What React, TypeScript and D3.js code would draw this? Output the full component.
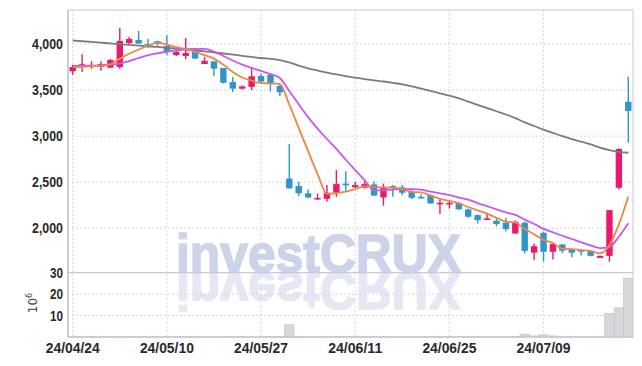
import React from 'react';
import * as d3 from 'd3';

const dates = [
  '24/04/24','24/04/25','24/04/26','24/04/29','24/04/30','24/05/02','24/05/03','24/05/07','24/05/08','24/05/09',
  '24/05/10','24/05/13','24/05/14','24/05/16','24/05/17','24/05/20','24/05/21','24/05/22','24/05/23','24/05/24',
  '24/05/27','24/05/28','24/05/29','24/05/30','24/05/31','24/06/03','24/06/04','24/06/05','24/06/07','24/06/10',
  '24/06/11','24/06/12','24/06/13','24/06/14','24/06/17','24/06/18','24/06/19','24/06/20','24/06/21','24/06/24',
  '24/06/25','24/06/26','24/06/27','24/06/28','24/07/01','24/07/02','24/07/03','24/07/04','24/07/05','24/07/08',
  '24/07/09','24/07/10','24/07/11','24/07/12','24/07/15','24/07/16','24/07/17','24/07/18','24/07/19','24/07/22',
];
const tickLabels = ['24/04/24','24/05/10','24/05/27','24/06/11','24/06/25','24/07/09'];

const opens = [3705,3750,3750,3754,3743,3750,4010,4043,4000,4030,3978,3880,3870,3935,3783,3812,3739,3587,3515,3535,
  3652,3665,3544,2540,2458,2380,2313,2320,2386,2485,2445,2440,2476,2335,2458,2444,2396,2342,2360,2270,
  2265,2276,2205,2143,2093,2082,2060,1944,2060,1735,1951,1745,1825,1771,1763,1755,1679,1701,2440,3373];
const highs = [3775,3888,3812,3812,3837,4177,4080,4141,4057,4035,4094,3931,4065,3945,3862,3812,3739,3642,3550,3745,
  3680,3682,3555,2915,2505,2422,2379,2469,2632,2620,2505,2523,2510,2487,2470,2469,2414,2370,2370,2324,
  2298,2285,2215,2150,2168,2114,2114,2085,2071,1836,1962,1836,1825,1771,1763,1755,1701,2197,2870,3645];
const lows = [3667,3696,3732,3710,3743,3732,4000,4003,3957,3980,3877,3870,3834,3834,3783,3652,3570,3479,3505,3500,
  3565,3484,3435,2433,2349,2324,2306,2287,2342,2396,2440,2433,2353,2244,2342,2360,2318,2320,2265,2154,
  2215,2200,2115,2053,2093,2023,1969,1937,1727,1654,1640,1662,1730,1685,1705,1695,1679,1636,2420,2928];
const closes = [3750,3780,3772,3783,3826,4033,4055,4005,3988,4000,3920,3913,3902,3842,3818,3732,3580,3515,3540,3650,
  3592,3566,3475,2433,2380,2335,2330,2386,2480,2466,2469,2480,2355,2450,2452,2386,2331,2333,2270,2277,
  2276,2205,2125,2089,2107,2046,1991,2071,1755,1806,1745,1828,1756,1735,1750,1701,1701,2197,2860,3272];
const volumes = [0.1,0.1,0.1,0.1,0.1,0.15,0.1,0.1,0.1,0.1,0.1,0.1,0.1,0.1,0.1,0.1,0.1,0.1,0.1,0.1,
  0.1,0.1,0.15,5.7,0.35,0.1,0.1,0.1,0.3,0.3,0.1,0.1,0.1,0.3,0.1,0.1,0.1,0.1,0.1,0.1,
  0.1,0.1,0.1,0.1,0.1,0.1,0.1,0.1,1.3,0.5,1.0,0.5,0.1,0.1,0.1,0.1,0.1,11,13.6,27.4];

const ma5 = [3750,3752,3758,3765,3782,3839,3894,3940,3981,4016,3994,3965,3945,3915,3879,3841,3775,3697,3637,3603,
  3575,3573,3565,3343,3089,2838,2591,2373,2382,2398,2425,2455,2449,2443,2441,2425,2395,2390,2354,2319,
  2297,2272,2231,2194,2160,2114,2072,2061,1994,1934,1874,1841,1778,1774,1763,1754,1729,1817,2042,2346];
const ma10 = [3762,3763,3765,3768,3775,3790,3815,3848,3878,3899,3916,3930,3943,3948,3948,3918,3870,3821,3776,3741,
  3708,3674,3631,3490,3346,3207,3082,2969,2863,2744,2631,2523,2411,2413,2420,2425,2425,2420,2399,2380,
  2361,2334,2311,2274,2240,2206,2172,2146,2094,2047,1994,1956,1919,1884,1848,1814,1785,1797,1908,2055];
const ma60 = [4038,4030,4022,4014,4007,3998,3990,3982,3975,3968,3958,3950,3940,3930,3920,3908,3897,3885,3872,3860,
  3848,3838,3826,3800,3765,3735,3712,3690,3670,3652,3635,3620,3606,3593,3578,3562,3540,3515,3490,3465,
  3440,3410,3375,3340,3305,3270,3235,3195,3150,3110,3070,3035,3000,2968,2940,2910,2875,2848,2830,2820];

const priceTicks = [2000, 2500, 3000, 3500, 4000];
const volTicks = [10, 20, 30];

const UP = '#e81a6c';
const DOWN = '#2e96c8';
const GRID = '#c6c8de';
const AXIS = '#c8c8d6';
const TEXT = '#2a2a2a';
const FONT = "'Liberation Sans', Arial, sans-serif";

export default function App() {
  const W = 642, H = 366;
  const left = 68, right = 633, top = 10, split = 272.7, bottom = 337;

  const x = d3.scaleBand<string>().domain(dates).range([left, right]).padding(0);
  const bw = x.bandwidth();
  const cx = (i: number) => (x(dates[i]) as number) + bw / 2;
  const y = d3.scaleLinear().domain([2000, 4000]).range([228.3, 44]);
  const yv = d3.scaleLinear().domain([0, 30]).range([bottom, split]);

  const line = (arr: number[]) =>
    d3.line<number>().x((_, i) => cx(i)).y((d) => y(d)).curve(d3.curveMonotoneX)(arr) || '';

  const bodyW = bw * 0.68;

  return (
    <svg width={W} height={H} style={{ position: 'absolute', left: 0, top: 0, background: '#fff' }}>
      <defs>
        <clipPath id="pclip"><rect x={left} y={top} width={right - left} height={split - top} /></clipPath>
        <clipPath id="vclip"><rect x={left} y={split} width={right - left} height={bottom - split} /></clipPath>
        <text id="wm" x={176} y={272} fill="#cdd3e8" stroke="#cdd3e8" strokeWidth={1.6}
          fontFamily="'Liberation Sans', Arial, sans-serif" fontWeight="bold" fontSize={54}
          textLength={285} lengthAdjust="spacingAndGlyphs">investCRUX</text>
      </defs>
      <rect x={0} y={0} width={W} height={H} fill="#fff" />

      {/* grid */}
      {priceTicks.map((t) => (
        <line key={'pg' + t} x1={left} x2={right} y1={y(t)} y2={y(t)} stroke={GRID} strokeDasharray="1.5,2.5" strokeWidth={1} />
      ))}
      {volTicks.slice(0, 2).map((t) => (
        <line key={'vg' + t} x1={left} x2={right} y1={yv(t)} y2={yv(t)} stroke={GRID} strokeDasharray="1.5,2.5" strokeWidth={1} />
      ))}
      {tickLabels.map((d) => (
        <line key={'xg' + d} x1={(x(d) as number) + bw / 2} x2={(x(d) as number) + bw / 2} y1={top} y2={bottom} stroke={GRID} strokeDasharray="1.5,2.5" strokeWidth={1} />
      ))}

      {/* watermark with reflection */}
      <use href="#wm" />
      <g transform={`translate(0, ${272 * 2}) scale(1,-1)`} opacity={0.5}>
        <use href="#wm" />
      </g>

      {/* volume */}
      <g clipPath="url(#vclip)">
        {volumes.map((v, i) => (
          <rect key={'v' + i} x={x(dates[i]) as number} y={yv(v)} width={bw} height={bottom - yv(v)}
            fill="#d6d6db" stroke="#bdbec8" strokeWidth={0.6} />
        ))}
      </g>

      {/* candles */}
      <g clipPath="url(#pclip)">
        {dates.map((d, i) => {
          const o = opens[i], c = closes[i], h = highs[i], l = lows[i];
          const col = c >= o ? UP : DOWN;
          const yt = y(Math.max(o, c)), yb = y(Math.min(o, c));
          const bh = Math.max(1.6, yb - yt);
          return (
            <g key={'c' + i}>
              <line x1={cx(i)} x2={cx(i)} y1={y(h)} y2={y(l)} stroke={col} strokeWidth={1.4} />
              <rect x={cx(i) - bodyW / 2} y={yt} width={bodyW} height={bh} fill={col} />
            </g>
          );
        })}
        <path d={line(ma60)} fill="none" stroke="#7c7c7c" strokeWidth={1.8} />
        <path d={line(ma10)} fill="none" stroke="#c857ee" strokeWidth={1.8} />
        <path d={line(ma5)} fill="none" stroke="#f08545" strokeWidth={1.8} />
      </g>

      {/* frame */}
      <rect x={left} y={top} width={right - left} height={bottom - top} fill="none" stroke={AXIS} strokeWidth={1} />
      <line x1={left} x2={right} y1={split} y2={split} stroke={AXIS} strokeWidth={1.2} />
      <line x1={left} x2={left} y1={top} y2={bottom} stroke={AXIS} strokeWidth={1.6} />
      <line x1={left} x2={right} y1={bottom} y2={bottom} stroke={AXIS} strokeWidth={1.6} />

      {/* labels */}
      <g fontFamily={FONT} fontWeight="bold" fontSize={15} fill={TEXT}>
        {priceTicks.map((t) => (
          <text key={'pt' + t} x={63} y={y(t) + 1} textAnchor="end" dominantBaseline="middle"
            textLength={31} lengthAdjust="spacingAndGlyphs">{d3.format(',')(t)}</text>
        ))}
        {volTicks.map((t) => (
          <text key={'vt' + t} x={63} y={yv(t) + 1} textAnchor="end" dominantBaseline="middle"
            textLength={13} lengthAdjust="spacingAndGlyphs">{t}</text>
        ))}
        {tickLabels.map((d) => (
          <text key={'xt' + d} x={(x(d) as number) + bw / 2} y={349} textAnchor="middle" dominantBaseline="middle"
            textLength={54} lengthAdjust="spacingAndGlyphs">{d}</text>
        ))}
      </g>
      <text transform="translate(37, 303) rotate(-90)" textAnchor="middle" fontFamily="'DejaVu Sans', sans-serif" fontSize={12} fill="#444">
        10<tspan dy={-5} fontSize={8}>6</tspan>
      </text>
    </svg>
  );
}
